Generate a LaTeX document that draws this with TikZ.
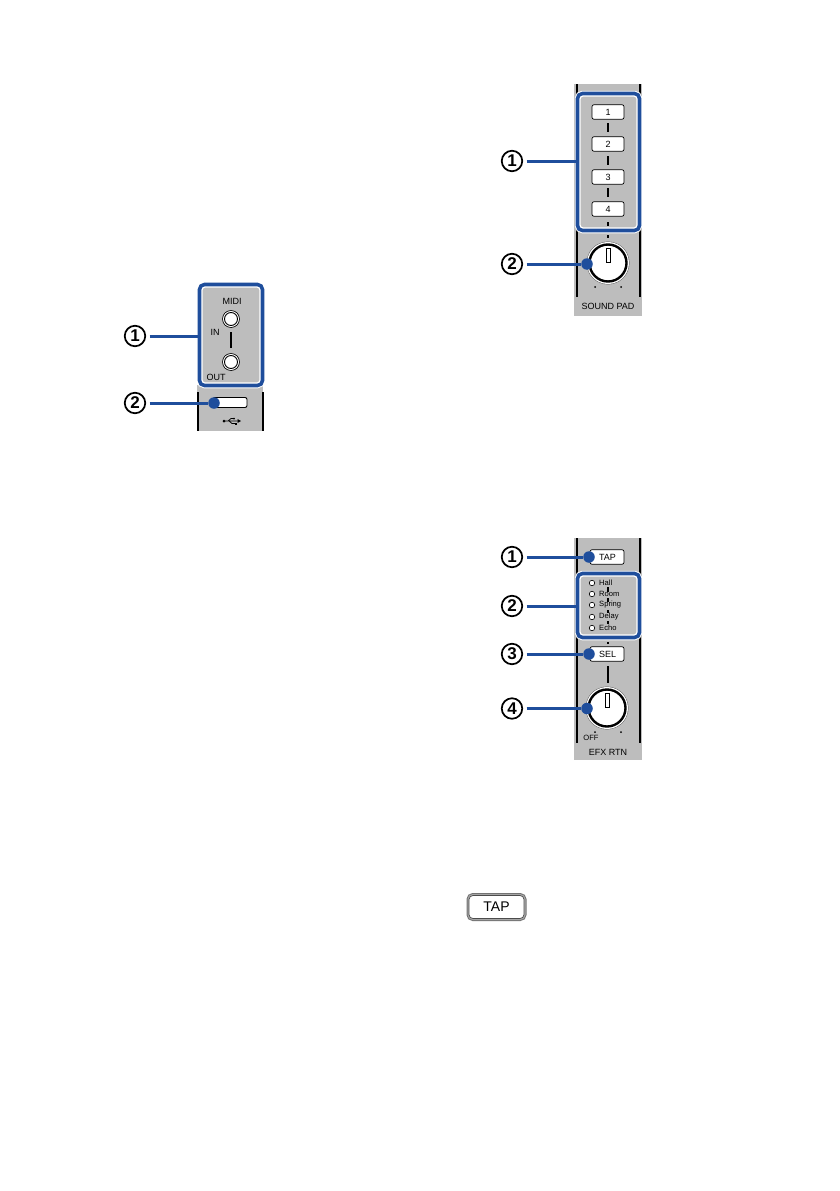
\documentclass[tikz,border=0pt]{standalone}
\usepackage{fontspec}
\setmainfont{Liberation Sans}
\definecolor{hblue}{HTML}{1F4E9C}
\definecolor{panelgray}{HTML}{BDBDBD}
\tikzset{num/.style={circle,draw,line width=1.7pt,fill=white,minimum size=20.5pt,inner sep=0pt,font=\fontsize{17}{17}\selectfont\bfseries},
hbox/.style={rectangle,rounded corners=3pt,inner sep=0pt,fill=panelgray,draw=white,line width=1.2pt,
preaction={draw=white,line width=10.5pt},preaction={draw=hblue,line width=8.6pt}},
leader/.style={draw=hblue,line width=3pt,shorten <=3.5pt},
bdot/.style={circle,fill=hblue,minimum size=11.5pt,inner sep=0pt},
btn/.style={rectangle,rounded corners=2pt,draw,line width=0.7pt,fill=white,minimum width=32pt,minimum height=14.5pt,inner sep=0pt,font=\fontsize{9}{9}\selectfont},
jack/.style={circle,draw,line width=0.9pt,fill=white,minimum size=13pt,inner sep=0pt,preaction={draw=black,line width=4.6pt},preaction={draw=white,line width=3pt}},
led/.style={circle,draw,line width=0.6pt,fill=white,minimum size=5.5pt,inner sep=0pt},
knob/.style={circle,draw,line width=2.4pt,fill=white,minimum size=37pt,inner sep=0pt,preaction={draw=black!70,line width=5.8pt},preaction={draw=white,line width=5pt}},
lbl/.style={inner sep=0pt,font=\fontsize{9}{9}\selectfont},
small/.style={inner sep=0pt,font=\fontsize{7.6}{7.6}\selectfont},
panel/.style={fill=panelgray},
edge/.style={line width=2pt},
dsh/.style={line width=1.5pt}}

\begin{document}
\begin{tikzpicture}[x=1pt,y=-1pt]
\useasboundingbox (0,0) rectangle (839,1191);
% MIDI / USB
\fill[panel] (197,385) rectangle (263,431);
\draw[edge] (198,392)--(198,431) (262.5,392)--(262.5,431);
\node[hbox,minimum width=58pt,minimum height=96pt] (mbox) at (231,335) {};
\node[lbl] (mlbl) at (232,301.5) {MIDI};
\node[jack] (jin) at (231,319) {};
\node[jack] (jout) at (231,362) {};
\draw[dsh] (231,332)--(231,348);
\node[lbl] (inlbl) at (215,332) {IN};
\node[lbl] (outlbl) at (216,377) {OUT};
\node[rectangle,rounded corners=2pt,draw,line width=0.9pt,fill=white,minimum width=34pt,minimum height=10pt,inner sep=0pt] (usb) at (230,402.5) {};
\draw[line width=0.7pt] (223,421)--(238,421) (228,421)--(231,418.5)--(234,418.5) (229,421)--(232,423.5)--(235,423.5);
\fill (241,421)--(237.5,419)--(237.5,423)--cycle;
\fill (224,421) circle (1.5pt);
\fill (234,418.5) circle (1pt);
\fill (234.5,422.5) rectangle (236.5,424.5);
\node[num] (ma) at (135,336) {1};
\node[num] (mb) at (135,403) {2};
\node[bdot] (mdot) at (214,403) {};
\draw[leader] (ma)--(mbox.west|-ma);
\draw[leader] (mb)--(mdot);
% SOUND PAD
\fill[panel] (574,84) rectangle (642,316);
\draw[edge] (576.5,84)--(576.5,297) (639.5,84)--(639.5,297);
\node[hbox,minimum width=57pt,minimum height=132pt] (pbox) at (608.5,162) {};
\foreach \y/\t in {112/1,144/2,177/3,209/4}{
\node[btn] (pad\t) at (608,\y) {\t};
}
\foreach \a/\b in {123/132,156/165,188/197,222/226,235/238}{
\draw[dsh] (608,\a)--(608,\b);
}
\node[knob] (pknob) at (608,263) {};
\draw[line width=0.7pt,fill=white] (606,248) rectangle (610,262);
\fill (595,287) circle (1pt) (621,287) circle (1pt);
\node[lbl] (plbl) at (608,306) {SOUND PAD};
\node[num] (pa) at (512,161) {1};
\node[num] (pb) at (512,264) {2};
\node[bdot] (pdot) at (587,264) {};
\draw[leader] (pa)--(pbox.west|-pa);
\draw[leader] (pb)--(pdot);
% EFX RTN
\fill[panel] (574,538) rectangle (642,760);
\draw[edge] (576.5,538)--(576.5,743) (639.5,538)--(639.5,743);
\node[btn,minimum width=34pt] (tap) at (607,557) {\hspace*{1pt}TAP};
\node[hbox,minimum width=57pt,minimum height=59pt] (ebox) at (608.5,605.5) {};
\foreach \a/\b in {587/592,598/602,610/613,621/624}{
\draw[dsh] (608,\a)--(608,\b);
}
\foreach \y/\t in {583/Hall,594/Room,605/Spring,617/Delay,628/Echo}{
\node[led] (led\t) at (592,\y) {};
\node[small,anchor=west] (lbl\t) at (599,\y) {\t};
}
\draw[dsh] (608,642)--(608,644);
\node[btn,minimum width=34pt] (sel) at (607,654) {\hspace*{1pt}SEL};
\draw[dsh] (608,666)--(608,683);
\node[knob] (eknob) at (607,708) {};
\draw[line width=0.7pt,fill=white] (605,693) rectangle (609,707);
\fill (595,732) circle (1pt) (621,732) circle (1pt);
\node[small] (offlbl) at (591,738) {OFF};
\node[lbl] (elbl) at (608,752) {EFX RTN};
\node[num] (ea) at (512,557) {1};
\node[num] (eb) at (512,606) {2};
\node[num] (ec) at (512,654) {3};
\node[num] (ed) at (512,708.5) {4};
\node[bdot] (edota) at (589,557) {};
\node[bdot] (edotc) at (589,654) {};
\node[bdot] (edotd) at (587,708.5) {};
\draw[leader] (ea)--(edota);
\draw[leader] (eb)--(ebox.west|-eb);
\draw[leader] (ec)--(edotc);
\draw[leader] (ed)--(edotd);
% TAP key
\node[rectangle,rounded corners=4pt,draw=black!70,line width=0.7pt,fill=white,minimum width=55pt,minimum height=23pt,inner sep=0pt,font=\fontsize{14}{14}\selectfont,
preaction={draw=black!55,line width=5pt},preaction={draw=black!35,line width=3pt}] (tapkey) at (496.5,907) {TAP};
\end{tikzpicture}
\end{document}
